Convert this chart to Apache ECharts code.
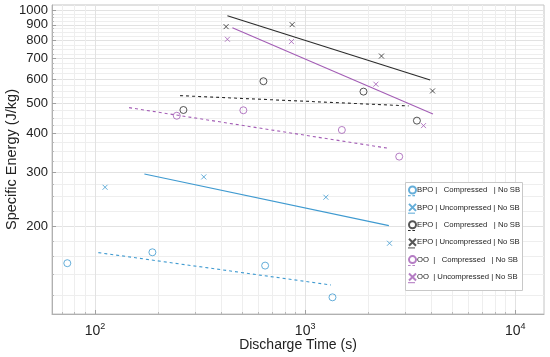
<!DOCTYPE html>
<html>
<head>
<meta charset="utf-8">
<script src="https://cdn.jsdelivr.net/npm/echarts@6/dist/echarts.min.js"></script>
<style>html,body{margin:0;padding:0;background:#fff}#c{width:550px;height:357px}</style>
</head>
<body>
<div id="c"></div>
<script>
// ---- data ----
const bpoCompX = [73.8, 187.5, 645, 1349];
const bpoCompY = [152.3, 165.2, 149.6, 118.1];
const bpoCompFitX = [103.7, 1326];
const bpoCompFitY = [164.8, 129.5];
const bpoUncX = [111.6, 329.3, 1255, 2520];
const bpoUncY = [268.2, 289.7, 249, 176.7];
const bpoUncFitX = [171.7, 2503];
const bpoUncFitY = [296.2, 201.5];
const epoCompX = [263.4, 633, 1895, 3403];
const epoCompY = [477, 591, 547, 440.6];
const epoCompFitX = [254, 3104];
const epoCompFitY = [530.8, 491.8];
const epoUncX = [420.5, 867, 2308, 4039];
const epoUncY = [887.7, 901, 713, 549.8];
const epoUncFitX = [426.6, 3936];
const epoUncFitY = [962, 596.8];
const ooCompX = [244.9, 508, 1495, 2803];
const ooCompY = [457, 476, 411, 337];
const ooCompFitX = [145.2, 2476];
const ooCompFitY = [485.4, 358.8];
const ooUncX = [426.6, 860.6, 2171, 3659];
const ooUncY = [808, 794, 578, 424.6];
const ooUncFitX = [450.6, 4057];
const ooUncFitY = [881, 463];

const xMajorTicks = [100, 1000, 10000];
const xMinorTicks = [70, 80, 90, 200, 300, 400, 500, 600, 700, 800, 900, 2000, 3000, 4000, 5000, 6000, 7000, 8000, 9000];
const yTickLabels = [200, 300, 400, 500, 600, 700, 800, 900, 1000];
const yMinorTicks = [120, 140, 160, 180, 225, 250, 275, 325, 350, 375, 425, 450, 475, 525, 550, 575, 625, 650, 675, 725, 750, 775, 825, 850, 875, 925, 950, 975];

const names = [
  'BPO |   Compressed   | No SB',
  'BPO | Uncompressed | No SB',
  'EPO |   Compressed   | No SB',
  'EPO | Uncompressed | No SB',
  'OO  |   Compressed   | No SB',
  'OO  | Uncompressed | No SB'
];

const BLUE = '#3f9ad0', BLACK = '#2b2b2b', PURPLE = '#a35db5';
const XSYM = 'path://M0,0L10,10M10,0L0,10';
const DASH_ICON = 'path://M0,0H3V1H0Z M5,0H8V1H5Z';
const SOLID_ICON = 'path://M0,0H8V1H0Z';
const zip = (a, b) => a.map((v, i) => [v, b[i]]);

function scatter(name, xs, ys, color, isX) {
  return {
    type: 'scatter', name, data: zip(xs, ys),
    symbol: isX ? XSYM : 'circle',
    symbolSize: isX ? 5 : 7,
    itemStyle: { color: 'rgba(0,0,0,0)', borderColor: color, borderWidth: 1 },
    emphasis: { disabled: true }, z: 3
  };
}
function fit(name, xs, ys, color, dashed) {
  return {
    type: 'line', name, data: zip(xs, ys), symbol: 'none', showSymbol: false,
    lineStyle: { color, width: 1.1, type: dashed ? [3, 3] : 'solid' },
    itemStyle: { color }, emphasis: { disabled: true }, z: 2, animation: false
  };
}

const series = [
  scatter(names[0], bpoCompX, bpoCompY, BLUE, false),
  fit('fitBPOc', bpoCompFitX, bpoCompFitY, BLUE, true),
  scatter(names[1], bpoUncX, bpoUncY, BLUE, true),
  fit('fitBPOu', bpoUncFitX, bpoUncFitY, BLUE, false),
  scatter(names[2], epoCompX, epoCompY, BLACK, false),
  fit('fitEPOc', epoCompFitX, epoCompFitY, BLACK, true),
  scatter(names[3], epoUncX, epoUncY, BLACK, true),
  fit('fitEPOu', epoUncFitX, epoUncFitY, BLACK, false),
  scatter(names[4], ooCompX, ooCompY, PURPLE, false),
  fit('fitOOc', ooCompFitX, ooCompFitY, PURPLE, true),
  scatter(names[5], ooUncX, ooUncY, PURPLE, true),
  fit('fitOOu', ooUncFitX, ooUncFitY, PURPLE, false)
];

const FONT = 'Liberation Sans, Arial, sans-serif';
const legends = [];
const step = 17.4;
for (let i = 0; i < 6; i++) {
  legends.push({
    data: [names[i]], orient: 'vertical', left: 408, top: 189 + step * i - 3.5,
    itemWidth: 7, itemHeight: 7, padding: 0, selectedMode: false,
    textStyle: { fontSize: 7.7, color: '#222', fontFamily: FONT, padding: [0, 0, 0, -4] }
  });
  legends.push({
    data: [series[i * 2 + 1].name], orient: 'vertical', left: 408, top: 195.8 + step * i - 0.5,
    itemWidth: 7, itemHeight: 1, padding: 0, selectedMode: false,
    icon: i % 2 === 0 ? DASH_ICON : SOLID_ICON,
    formatter: () => '', textStyle: { fontSize: 1, lineHeight: 1 }
  });
}

const chart = echarts.init(document.getElementById('c'), null, { renderer: 'canvas' });
chart.setOption({
  animation: false,
  backgroundColor: '#fff',
  grid: { left: 52, right: 6, top: 5, bottom: 43, containLabel: false, outerBoundsMode: 'none', show: true, borderColor: '#c4c4c4', borderWidth: 1, backgroundColor: 'transparent' },
  xAxis: [
    {
      type: 'log', min: 62.4, max: 13700, position: 'bottom',
      name: 'Discharge Time (s)', nameLocation: 'middle', nameGap: 24, nameMoveOverlap: false,
      nameTextStyle: { fontSize: 14, color: '#222', fontFamily: FONT },
      axisLine: { show: true, lineStyle: { color: '#b0b0b0' } },
      axisTick: { show: true, inside: true, length: 4, customValues: xMajorTicks, lineStyle: { color: '#a0a0a0' } },
      axisLabel: {
        customValues: xMajorTicks, margin: 8, color: '#222', fontFamily: FONT, fontSize: 14,
        formatter: v => '10{sup|' + Math.round(Math.log10(v)) + '}',
        rich: { sup: { fontSize: 9, verticalAlign: 'bottom', padding: [0, 0, 9, 0], color: '#222', fontFamily: FONT } }
      },
      splitLine: { show: true, lineStyle: { color: '#e2e2e2', width: 1 } },
      minorTick: { show: false }, minorSplitLine: { show: false }
    },
    {
      type: 'log', min: 62.4, max: 13700, position: 'bottom',
      axisLine: { show: false },
      axisTick: { show: true, inside: true, length: 2, customValues: xMinorTicks, lineStyle: { color: '#b8b8b8' } },
      axisLabel: { show: false },
      splitLine: { show: true, lineStyle: { color: '#eeeeee', width: 1 } }
    }
  ],
  yAxis: [
    {
      type: 'log', min: 104.3, max: 1043, position: 'left',
      name: 'Specific Energy (J/kg)', nameLocation: 'middle', nameGap: 33, nameMoveOverlap: false,
      nameTextStyle: { fontSize: 14.5, color: '#222', fontFamily: FONT },
      axisLine: { show: true, lineStyle: { color: '#b0b0b0' } },
      axisTick: { show: true, inside: true, length: 4, customValues: yTickLabels, lineStyle: { color: '#a0a0a0' } },
      axisLabel: { customValues: yTickLabels, margin: 4, color: '#222', fontFamily: FONT, fontSize: 13, formatter: v => String(Math.round(v)) },
      splitLine: { show: true, lineStyle: { color: '#e2e2e2', width: 1 } }
    },
    {
      type: 'log', min: 104.3, max: 1043, position: 'left',
      axisLine: { show: false },
      axisTick: { show: true, inside: true, length: 2, customValues: yMinorTicks, lineStyle: { color: '#b8b8b8' } },
      axisLabel: { show: false },
      splitLine: { show: true, lineStyle: { color: '#eeeeee', width: 1 } }
    }
  ],
  legend: legends,
  graphic: [{
    type: 'rect', left: 405, top: 182, z: 3, zlevel: 0,
    shape: { width: 117, height: 108 },
    style: { fill: '#fff', stroke: '#c8c8c8', lineWidth: 1 }
  }],
  series: series
});
</script>
</body>
</html>
